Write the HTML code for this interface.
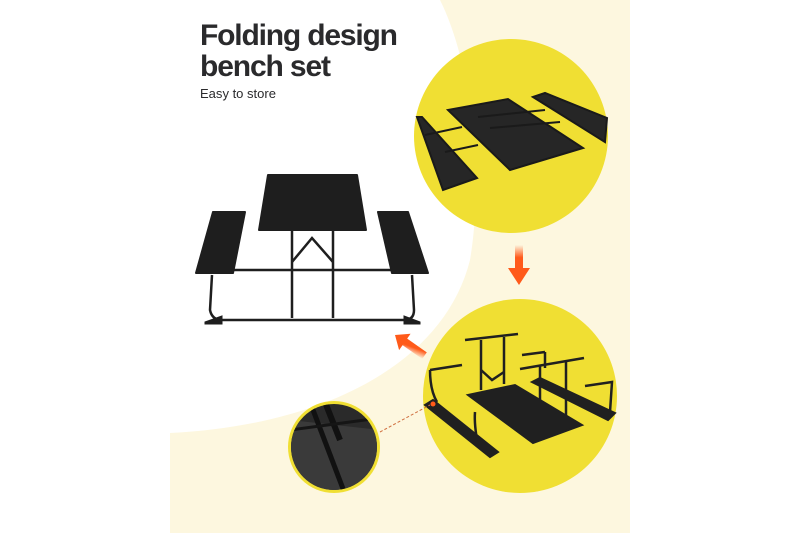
<!DOCTYPE html>
<html><head><meta charset="utf-8"><style>
html,body{margin:0;padding:0;background:#fff;width:800px;height:533px;overflow:hidden}
</style></head><body>
<svg width="800" height="533" viewBox="0 0 800 533" xmlns="http://www.w3.org/2000/svg">
<defs>
<linearGradient id="ad" x1="0" y1="0" x2="0" y2="1"><stop offset="0" stop-color="#ff5a1a" stop-opacity="0"/><stop offset="0.5" stop-color="#ff5a1a"/></linearGradient>
<linearGradient id="al" x1="1" y1="1" x2="0" y2="0"><stop offset="0" stop-color="#ff5a1a" stop-opacity="0"/><stop offset="0.5" stop-color="#ff5a1a"/></linearGradient>
<clipPath id="cs"><circle cx="334" cy="447" r="43"/></clipPath>
</defs>
<rect x="170" y="0" width="460" height="533" fill="#fdf7df"/>
<path d="M170 0 L440 0 C470 60 485 170 470 260 C445 360 330 425 170 433 Z" fill="#fff"/>
<!-- title -->
<g font-family="Liberation Sans, sans-serif" fill="#2a2a2c">
<text x="200" y="45" font-size="30" font-weight="bold" textLength="198" lengthAdjust="spacing">Folding design</text>
<text x="200" y="76" font-size="30" font-weight="bold" textLength="131" lengthAdjust="spacing">bench set</text>
<text x="200" y="98" font-size="13" textLength="76" lengthAdjust="spacingAndGlyphs">Easy to store</text>
</g>
<!-- main table -->
<g fill="#1e1e1e" stroke="#1e1e1e">
<polygon points="268,175 357,175 366,230 259,230" stroke-width="2" stroke-linejoin="round"/>
<polygon points="213,212 245,212 233,273 196,273" stroke-width="2" stroke-linejoin="round"/>
<polygon points="378,212 408,212 428,273 392,273" stroke-width="2" stroke-linejoin="round"/>
<g fill="none" stroke-width="2.5">
<line x1="292" y1="230" x2="292" y2="318"/><line x1="333" y1="230" x2="333" y2="318"/>
<line x1="233" y1="270" x2="392" y2="270"/>
<polyline points="292,262 312,238 333,262"/>
<path d="M212 275 L210 310 Q212 320 222 320 L404 320 Q414 320 414 310 L412 275"/>
</g>
<polygon points="205,322 222,316 222,324 205,324" />
<polygon points="404,316 420,322 420,324 404,324"/>
</g>
<!-- arrows -->
<rect x="515" y="245" width="8" height="25" fill="url(#ad)"/>
<polygon points="508,268 530,268 519,285" fill="#ff5a1a"/>
<g transform="translate(395,335) rotate(35)">
<rect x="6" y="-4" width="30" height="8" fill="url(#al)"/>
<polygon points="0,0 12,-10 12,10" fill="#ff5a1a"/>
</g>
<!-- top circle -->
<circle cx="511" cy="136" r="97" fill="#f0df33"/>
<g fill="#262626" stroke="#1a1a1a">
<polygon points="448,110 508,99 583,148 510,170" stroke-width="2"/>
<polygon points="417,117 422,117 477,178 443,190" stroke-width="2"/>
<polygon points="533,97 545,93 607,118 605,142" stroke-width="2"/>
<g stroke-width="2"><line x1="425" y1="135" x2="462" y2="127"/><line x1="445" y1="152" x2="478" y2="145"/><line x1="478" y1="117" x2="545" y2="110"/><line x1="490" y1="128" x2="560" y2="122"/></g>
</g>
<!-- bottom circle -->
<circle cx="520" cy="396" r="97" fill="#f0df33"/>
<g fill="#202020" stroke="#202020">
<polygon points="425,405 433,400 498,452 490,457" stroke-width="2"/>
<polygon points="468,395 515,385 582,425 533,443" stroke-width="2"/>
<polygon points="532,382 540,378 615,413 608,420" stroke-width="2"/>
<g fill="none" stroke-width="2.5">
<line x1="465" y1="340" x2="518" y2="334"/><line x1="481" y1="340" x2="481" y2="390"/><line x1="504" y1="337" x2="504" y2="384"/>
<polyline points="481,370 492,380 504,372"/>
<line x1="520" y1="369" x2="584" y2="358"/><line x1="540" y1="366" x2="540" y2="432"/><line x1="566" y1="362" x2="566" y2="420"/>
<line x1="522" y1="355" x2="545" y2="352"/><line x1="545" y1="352" x2="545" y2="368"/>
<polyline points="430,370 462,365"/><path d="M430 370 Q430 390 437 402"/>
<polyline points="585,386 612,382 610,412"/>
<path d="M475 412 Q474 425 478 445"/>
</g>
</g>
<circle cx="433" cy="404" r="2.5" fill="#ff5a1a"/>
<line x1="380" y1="432" x2="430" y2="405" stroke="#d07040" stroke-width="1" stroke-dasharray="3,2"/>
<!-- small circle -->
<circle cx="334" cy="447" r="46" fill="#f0df33"/>
<g clip-path="url(#cs)">
<rect x="288" y="402" width="92" height="92" fill="#2a2a2a"/>
<polygon points="290,420 380,430 380,494 290,494" fill="#3a3a3a"/>
<line x1="310" y1="402" x2="345" y2="494" stroke="#111" stroke-width="5"/>
<line x1="325" y1="402" x2="340" y2="440" stroke="#111" stroke-width="6"/>
<line x1="290" y1="430" x2="380" y2="418" stroke="#151515" stroke-width="3"/>
</g>
</svg>
</body></html>
